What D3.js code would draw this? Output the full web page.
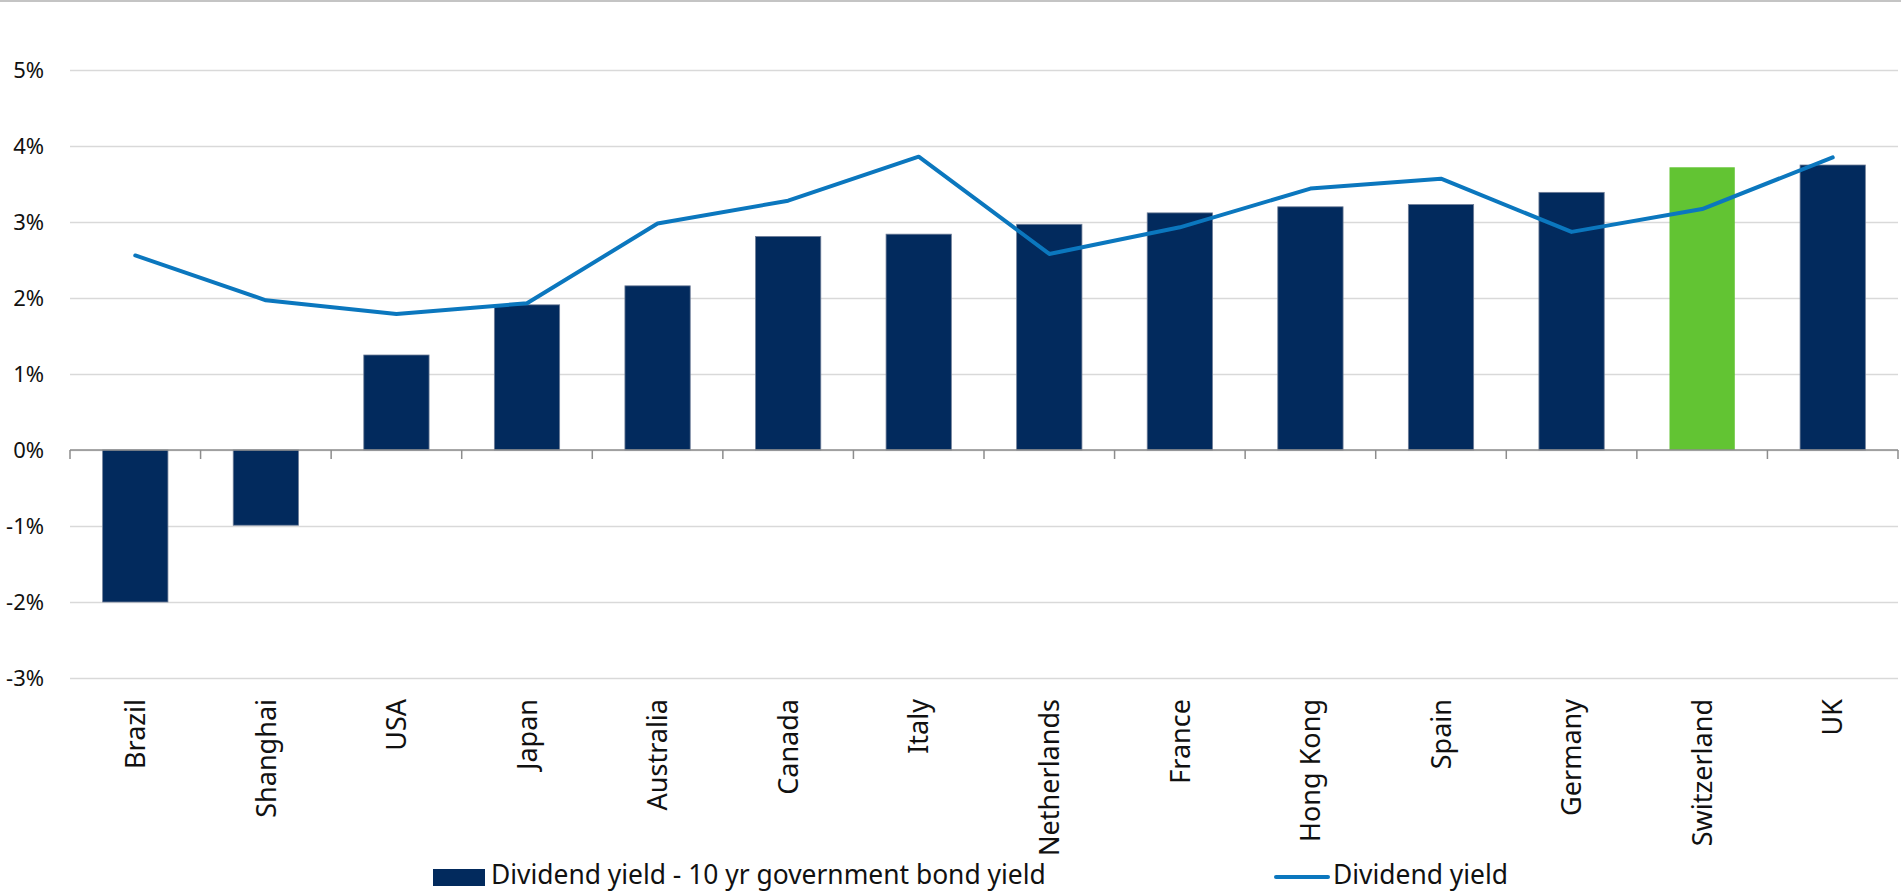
<!DOCTYPE html>
<html>
<head>
<meta charset="utf-8">
<script src="https://cdn.jsdelivr.net/npm/d3@7"></script>
<style>
  html, body { margin: 0; padding: 0; background: #fff; }
  svg { display: block; font-family: "Noto Sans", "Open Sans", sans-serif; }
</style>
</head>
<body>
<svg id="chart" width="1901" height="893"></svg>
<script>
const categories = ["Brazil", "Shanghai", "USA", "Japan", "Australia", "Canada", "Italy", "Netherlands", "France", "Hong Kong", "Spain", "Germany", "Switzerland", "UK"];
const spreadValues = [-2.00, -0.99, 1.25, 1.91, 2.16, 2.81, 2.84, 2.97, 3.12, 3.20, 3.23, 3.39, 3.72, 3.75];
const dividendYield = [2.56, 1.97, 1.79, 1.93, 2.98, 3.28, 3.86, 2.58, 2.93, 3.44, 3.57, 2.87, 3.17, 3.85];
const yTicks = [-3, -2, -1, 0, 1, 2, 3, 4, 5];
const highlight = ["Switzerland"];
const seriesNames = ["Dividend yield - 10 yr government bond yield", "Dividend yield"];

const svg = d3.select("#chart");
const W = 1901, H = 893;
const mLeft = 70, mRight = 1898, mTop = 70, mBottom = 678;

const x = d3.scaleBand().domain(categories).range([mLeft, mRight]).paddingInner(0.5).paddingOuter(0.25);
const xb = d3.scaleBand().domain(categories).range([mLeft, mRight]);
const y = d3.scaleLinear().domain([-3, 5]).range([mBottom, mTop]);

const navy = "#022A5D", green = "#62C433", lineCol = "#0B77BE";

// top border
svg.append("line").attr("x1", 0).attr("x2", W).attr("y1", 1).attr("y2", 1)
  .attr("stroke", "#c4c4c4").attr("stroke-width", 2);

// gridlines + y labels
const yAxis = d3.axisLeft(y).tickValues(yTicks).tickFormat(d => d + "%").tickSize(-(mRight - mLeft)).tickPadding(26);
const gy = svg.append("g").attr("transform", `translate(${mLeft},0)`).call(yAxis);
gy.select(".domain").remove();
gy.selectAll(".tick line").attr("stroke", "#d9d9d9").attr("stroke-width", 1.5);
gy.selectAll(".tick text").attr("font-size", 22).attr("fill", "#111").attr("font-family", "Noto Sans");

// bars
svg.append("g").selectAll("rect").data(categories).join("rect")
  .attr("x", d => x(d))
  .attr("width", x.bandwidth())
  .attr("y", (d, i) => y(Math.max(0, spreadValues[i])))
  .attr("height", (d, i) => Math.abs(y(spreadValues[i]) - y(0)))
  .attr("fill", d => highlight.includes(d) ? green : navy)
  .attr("stroke", d => highlight.includes(d) ? "none" : "#6f7e98")
  .attr("stroke-width", 0.8);

// zero axis with ticks at band boundaries
const gx = svg.append("g").attr("transform", `translate(0,${y(0)})`);
gx.append("line").attr("x1", mLeft).attr("x2", mRight).attr("stroke", "#8c8c8c").attr("stroke-width", 1.5);
const bounds = categories.map(c => xb(c)).concat([mRight]);
gx.selectAll("line.tk").data(bounds).join("line").attr("class", "tk")
  .attr("x1", d => d).attr("x2", d => d).attr("y1", 0).attr("y2", 9)
  .attr("stroke", "#8c8c8c").attr("stroke-width", 1.5);

// line series
const line = d3.line().x((d, i) => xb(categories[i]) + xb.bandwidth() / 2).y(d => y(d));
svg.append("path").datum(dividendYield).attr("d", line)
  .attr("fill", "none").attr("stroke", lineCol).attr("stroke-width", 4)
  .attr("stroke-linejoin", "round").attr("stroke-linecap", "round");

// x labels rotated
svg.append("g").selectAll("text").data(categories).join("text")
  .attr("transform", d => `translate(${xb(d) + xb.bandwidth() / 2},699) rotate(-90)`)
  .attr("text-anchor", "end")
  .attr("dy", "0.36em")
  .attr("font-size", 27)
  .attr("fill", "#111")
  .text(d => d);

// legend
const lg = svg.append("g");
lg.append("rect").attr("x", 433).attr("y", 869).attr("width", 52).attr("height", 17).attr("fill", navy);
lg.append("text").attr("x", 491).attr("y", 884).attr("font-size", 26.4).attr("fill", "#111").text(seriesNames[0]);
lg.append("line").attr("x1", 1276).attr("x2", 1328).attr("y1", 877).attr("y2", 877)
  .attr("stroke", lineCol).attr("stroke-width", 4).attr("stroke-linecap", "round");
lg.append("text").attr("x", 1333).attr("y", 884).attr("font-size", 26.4).attr("fill", "#111").text(seriesNames[1]);
</script>
</body>
</html>
